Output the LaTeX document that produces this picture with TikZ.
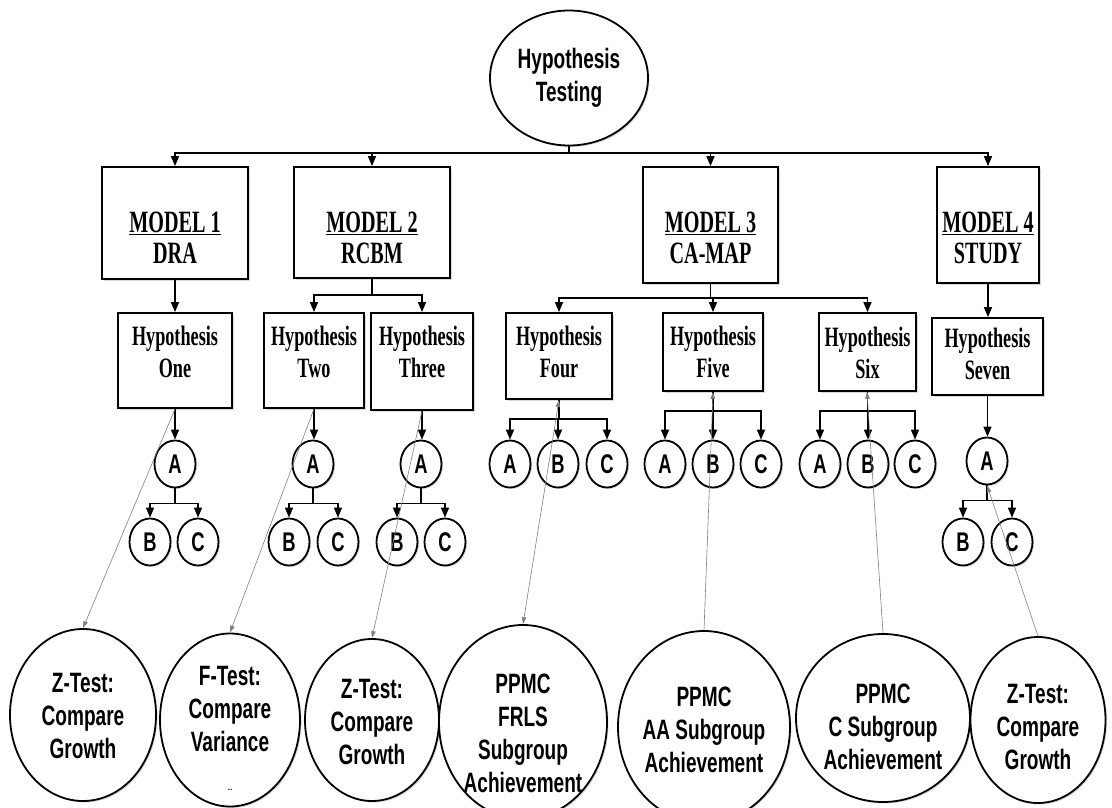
\documentclass[tikz,border=0pt]{standalone}
\usepackage{fontspec}
\usetikzlibrary{arrows.meta,shapes.geometric,shadows}
\newfontfamily\hsans{Liberation Sans}[FakeStretch=0.68]
\newfontfamily\hserif{Liberation Serif}[FakeStretch=0.65]

\tikzset{
  box/.style={draw, line width=1.8pt, fill=white, inner sep=0pt,
    drop shadow={shadow xshift=1.5pt, shadow yshift=-1.5pt, opacity=0.3}},
  letter/.style={box, ellipse, minimum width=41pt, minimum height=47pt,
    font=\hsans\bfseries\fontsize{27}{27}\selectfont},
  testcirc/.style={box, ellipse},
  mtext/.style={align=center, font=\hserif\bfseries\fontsize{31}{31}\selectfont},
  htext/.style={align=center, font=\hserif\bfseries\fontsize{28}{32}\selectfont},
  ttext/.style={align=center, font=\hsans\bfseries\fontsize{28}{33}\selectfont},
  link/.style={line width=1.5pt},
  arr/.style={link, -{Triangle[length=10pt,width=8pt]}},
  gline/.style={gray, line width=0.6pt, -{Triangle[length=7pt,width=4.5pt]}},
  gboth/.style={gline, {Triangle[length=7pt,width=4.5pt]}-{Triangle[length=7pt,width=4.5pt]}}
}

\begin{document}
\begin{tikzpicture}[x=1pt, y=-1pt]
  \useasboundingbox (0,0) rectangle (1112,808);

  % Root
  \node[testcirc, ttext, minimum width=158pt, minimum height=135pt] (top) at (569,78) {Hypothesis\\Testing};

  % Models
  \node[box, minimum width=146pt, minimum height=112pt] (m1) at (175,223) {};
  \node[box, minimum width=156pt, minimum height=111pt] (m2) at (372,222.5) {};
  \node[box, minimum width=135pt, minimum height=116pt] (m3) at (710.5,225) {};
  \node[box, minimum width=102pt, minimum height=116pt] (m4) at (988,225) {};
  \node[mtext] (m1t) at (175,238) {\underline{MODEL 1}\\DRA};
  \node[mtext] (m2t) at (372,238) {\underline{MODEL 2}\\RCBM};
  \node[mtext] (m3t) at (710.5,238) {\underline{MODEL 3}\\CA-MAP};
  \node[mtext] (m4t) at (988,238) {\underline{MODEL 4}\\STUDY};

  % Hypotheses
  \node[box, minimum width=114pt, minimum height=95pt] (h1) at (175,360.5) {};
  \node[box, minimum width=100pt, minimum height=95pt] (h2) at (314,360.5) {};
  \node[box, minimum width=102pt, minimum height=97pt] (h3) at (422,361.5) {};
  \node[box, minimum width=106pt, minimum height=86pt] (h4) at (559,356) {};
  \node[box, minimum width=100pt, minimum height=78pt] (h5) at (713,352) {};
  \node[box, minimum width=97pt, minimum height=78pt] (h6) at (867.5,352) {};
  \node[box, minimum width=111pt, minimum height=77pt] (h7) at (987.5,356.5) {};
  \node[htext] (h1t) at (175,352) {Hypothesis\\One};
  \node[htext] (h2t) at (314,352) {Hypothesis\\Two};
  \node[htext] (h3t) at (422,352) {Hypothesis\\Three};
  \node[htext] (h4t) at (559,352) {Hypothesis\\Four};
  \node[htext] (h5t) at (713,352) {Hypothesis\\Five};
  \node[htext] (h6t) at (867.5,353) {Hypothesis\\Six};
  \node[htext] (h7t) at (987.5,354) {Hypothesis\\Seven};

  % Groups A, B, C
  \node[letter] (h1a) at (175,464) {A};
  \node[letter] (h1b) at (150,542) {B};
  \node[letter] (h1c) at (198,542) {C};
  \node[letter] (h2a) at (313,464) {A};
  \node[letter] (h2b) at (289,542) {B};
  \node[letter] (h2c) at (338,542) {C};
  \node[letter] (h3a) at (421,464) {A};
  \node[letter] (h3b) at (397,542) {B};
  \node[letter] (h3c) at (445,542) {C};
  \node[letter] (h4a) at (510,464) {A};
  \node[letter] (h4b) at (558,464) {B};
  \node[letter] (h4c) at (607,464) {C};
  \node[letter] (h5a) at (665,464) {A};
  \node[letter] (h5b) at (713,464) {B};
  \node[letter] (h5c) at (761,464) {C};
  \node[letter] (h6a) at (820,464) {A};
  \node[letter] (h6b) at (868,464) {B};
  \node[letter] (h6c) at (915,464) {C};
  \node[letter] (h7a) at (987,461) {A};
  \node[letter] (h7b) at (963,542) {B};
  \node[letter] (h7c) at (1012,542) {C};

  % Tests
  \node[testcirc, minimum width=146pt, minimum height=172pt] (c1) at (83,715) {};
  \node[testcirc, minimum width=140pt, minimum height=173pt] (c2) at (230,720) {};
  \node[testcirc, minimum width=134pt, minimum height=162pt] (c3) at (372,720) {};
  \node[testcirc, minimum width=168pt, minimum height=194pt] (c4) at (523,722) {};
  \node[testcirc, minimum width=172pt, minimum height=192pt] (c5) at (704,727) {};
  \node[testcirc, minimum width=174pt, minimum height=168pt] (c6) at (883,718) {};
  \node[testcirc, minimum width=135pt, minimum height=166pt] (c7) at (1038,720) {};
  \node[ttext] (c1t) at (83,716) {Z-Test:\\Compare\\Growth};
  \node[ttext] (c2t) at (230,728) {F-Test:\\Compare\\Variance\\[6pt]{\fontsize{8}{8}\selectfont ...}};
  \node[ttext] (c3t) at (372,722) {Z-Test:\\Compare\\Growth};
  \node[ttext] (c4t) at (523,733) {PPMC\\FRLS\\Subgroup\\Achievement};
  \node[ttext] (c5t) at (704,730) {PPMC\\AA Subgroup\\Achievement};
  \node[ttext] (c6t) at (883,727) {PPMC\\C Subgroup\\Achievement};
  \node[ttext] (c7t) at (1038,727) {Z-Test:\\Compare\\Growth};

  % Root to models
  \foreach \m in {m1,m2,m3,m4}
    \draw[arr] (top.south) -- ++(0,6.5) -| (\m.north);

  % Models to hypotheses
  \draw[arr] (m1.south) -- (h1.north);
  \foreach \h in {h2,h3}
    \draw[arr] (m2.south) -- ++(0,16) -| (\h.north);
  \foreach \h in {h4,h5,h6}
    \draw[arr] (m3.south) -- ++(0,14) -| (\h.north);
  \draw[arr] (m4.south) -- (m4.south |- h7.north);

  % Hypotheses to groups
  \foreach \h in {h1,h2,h3,h7} {
    \draw[arr] (\h.south) -- (\h.south |- \h a.north);
    \draw[arr] (\h a.south) -- ++(0,15) -| (\h b.north);
    \draw[arr] (\h a.south) -- ++(0,15) -| (\h c.north);
  }
  \foreach \h in {h4,h5,h6}
    \foreach \g in {a,b,c}
      \draw[arr] (\h.south) -- ++(0,19) -| (\h\g.north);

  % Tests
  \draw[gline] (h1.south) -- (c1.north);
  \draw[gline] (h2.south) -- (c2.north);
  \draw[gline] (h3.south) -- (c3.north);
  \draw[gboth] (c4.north) -- (h4.south);
  \draw[gline] (c5.north) -- (h5.south);
  \draw[gline] (c6.north) -- ([xshift=-0.5pt]h6.south);
  \draw[gline] (c7.north) -- (h7a.south);
\end{tikzpicture}
\end{document}
